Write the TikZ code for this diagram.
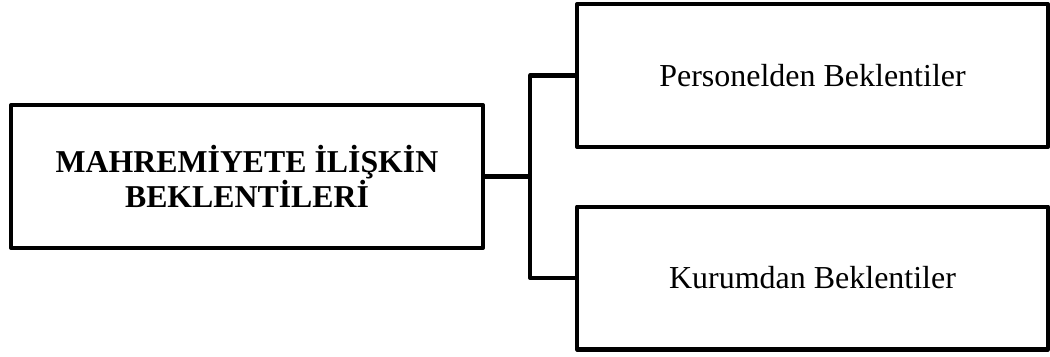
\documentclass[tikz,border=0pt]{standalone}
\usepackage{fontspec}
\setmainfont{Liberation Serif}
\usetikzlibrary{positioning}

\begin{document}
\begin{tikzpicture}[x=0.02cm,y=-0.02cm,line width=2.3pt,line join=round,
  box/.style={draw,rectangle,minimum width=9.44cm,minimum height=2.86cm,
    align=center,font=\fontsize{18.2}{18.6}\selectfont}]

\useasboundingbox (0,0) rectangle (1050,356);

% Left box
\node[box,font=\fontsize{18.1}{18.6}\selectfont\bfseries] (main) at (247,176.5)
  {MAHREMİYETE İLİŞKİN\\BEKLENTİLERİ};

% Right boxes
\node[box,minimum width=9.42cm] (staff) at (812.5,75.5) {Personelden Beklentiler};
\node[box,minimum width=9.42cm] (inst) at (812.5,278) {Kurumdan Beklentiler};

% Branching connector
\coordinate (junc) at (530,176.5);
\draw (main.east) -- (junc);
\draw (staff.west) -| (junc) |- (inst.west);

\end{tikzpicture}
\end{document}
